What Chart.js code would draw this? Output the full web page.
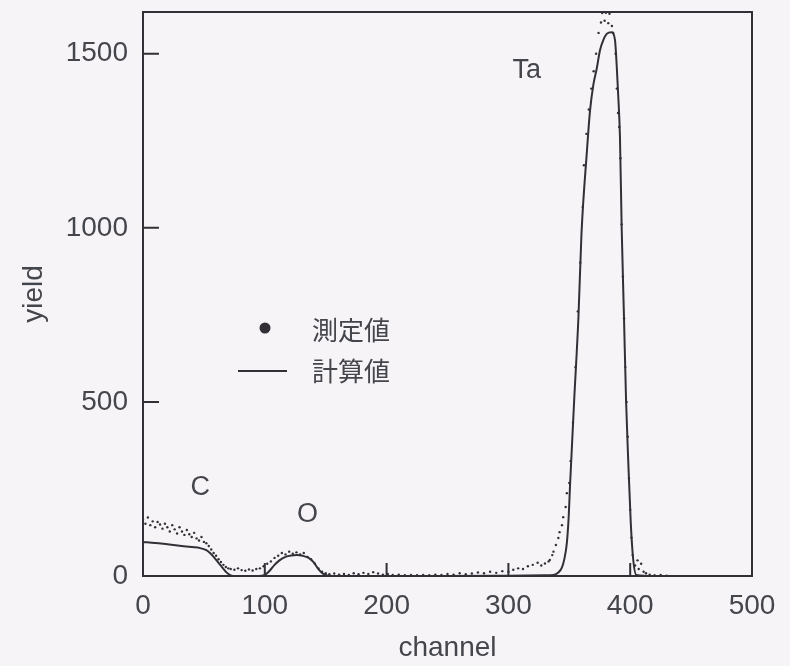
<!DOCTYPE html>
<html>
<head>
<meta charset="utf-8">
<script src="https://cdn.jsdelivr.net/npm/chart.js@4.4.1/dist/chart.umd.min.js"></script>
<style>
  html, body { margin: 0; padding: 0; background: #f6f4f7; }
  #wrap { width: 790px; height: 666px; }
</style>
</head>
<body>
<div id="wrap"><canvas id="spectrum" width="790" height="666"></canvas></div>
<script>
// RBS spectrum: measured yield vs. simulated yield per channel
const measuredChannel = [
  0, 2, 4, 6, 8, 10, 12, 14, 16, 18, 20, 22, 24, 26, 28, 30, 32, 34, 36, 38,
  40, 42, 44, 46, 48, 50, 52, 54, 56, 58, 60, 62, 64, 66, 68, 70,
  72, 75, 78, 81, 84, 87, 90, 93, 96, 99,
  102, 105, 108, 111, 114, 117, 120, 123, 126, 129, 132, 135, 138, 141, 144, 147, 150,
  153, 157, 161, 165, 169, 173, 177, 181, 185, 189, 193, 197, 201, 205, 210, 215, 220,
  225, 230, 235, 240, 245, 250, 255, 260, 265, 270, 275, 280, 285, 290, 295, 300,
  304, 308, 312, 316, 320, 324, 327, 330, 333,
  334, 336, 337, 339, 341, 342, 344, 345, 347, 348, 350, 351, 353, 355, 357, 359,
  361, 362, 364, 366, 368, 370, 372, 374, 376, 377, 379, 380, 382, 383, 385, 386,
  388, 389, 390, 391, 392, 393, 394, 395, 396, 397, 398, 399, 400, 401, 402, 404,
  406, 407, 409, 411, 413, 416, 420, 425, 430
];
const measuredYield = [
  162, 150, 168, 146, 157, 140, 155, 148, 136, 150, 140, 128, 146, 134, 122, 140, 128, 118, 132, 120,
  112, 124, 108, 102, 112, 98, 94, 86, 76, 66, 58, 48, 40, 32, 26, 22,
  20, 18, 22, 17, 15, 19, 16, 20, 22, 28,
  35, 42, 52, 58, 66, 62, 70, 64, 68, 62, 66, 55, 48, 36, 22, 12, 8,
  5, 7, 4, 6, 3, 8, 5, 9, 6, 11, 7, 4, 6, 3, 4, 2, 3,
  2, 3, 2, 4, 3, 6, 4, 8, 5, 7, 10, 8, 12, 9, 14, 12,
  18, 22, 20, 28, 32, 38, 30, 36, 42,
  46, 60, 70, 89, 109, 126, 146, 169, 198, 238, 267, 330, 440, 600, 760, 900,
  1060, 1180, 1270, 1340, 1400, 1450, 1500, 1560, 1590, 1617, 1595, 1618, 1588, 1615, 1580, 1560,
  1500, 1400, 1330, 1290, 1200, 1010, 860, 740, 600, 500, 400, 280, 190, 110, 60, 30,
  45, 20, 35, 12, 8, 4, 2, 3, 1
];
const calcChannel = [
  0, 10, 20, 30, 40, 47, 52, 55, 58, 62, 65, 69, 72, 76, 85, 95,
  100, 104, 108, 112, 117, 122, 126, 131, 136, 140, 144, 148, 152, 160,
  200, 250, 300, 330, 337, 341, 344, 346, 348, 349.5, 350.6, 352, 354, 357.5, 360,
  364.5, 367, 369.7, 372.5, 375.2, 378, 380.7, 384.7, 387.5, 388.9, 390.3, 391.6,
  393, 394.9, 396.6, 398.4, 400.5, 402.5, 405, 420
];
const calcYield = [
  98, 95, 91, 87, 83, 80, 74, 66, 55, 38, 25, 9, 2, 0, 0, 0,
  3, 15, 32, 45, 55, 59, 60, 58, 52, 40, 20, 6, 1, 0,
  0, 0, 1, 2, 3, 10, 25, 50, 95, 170, 260, 361, 505, 743, 983,
  1222, 1336, 1410, 1457, 1510, 1540, 1557, 1562, 1540, 1467, 1371, 1260,
  1000, 743, 505, 330, 150, 46, 3, 0
];
const xTicks = [0, 100, 200, 300, 400, 500];
const yTicks = [0, 500, 1000, 1500];
const peakNames = ['C', 'O', 'Ta'];
const peakChannel = [47, 135, 315];
const peakYield = [253, 176, 1451];

const ink = '#303036';
const textColor = '#45454c';

const toPoints = (xs, ys) => xs.map((x, i) => ({ x, y: ys[i] }));

// frame, inward ticks, peak names and the legend are drawn on the canvas
const decorations = {
  id: 'decorations',
  beforeDraw(chart) {
    const { ctx, width, height } = chart;
    ctx.save();
    ctx.fillStyle = '#f6f4f7';
    ctx.fillRect(0, 0, width, height);
    ctx.restore();
  },
  afterDatasetsDraw(chart) {
    const { ctx, chartArea: a, scales: { x, y } } = chart;
    ctx.save();
    ctx.strokeStyle = ink;
    ctx.lineWidth = 2;
    ctx.strokeRect(a.left, a.top, a.right - a.left, a.bottom - a.top);

    ctx.beginPath();
    xTicks.forEach(v => {
      const px = x.getPixelForValue(v);
      if (px > a.left + 2 && px < a.right - 2) {
        ctx.moveTo(px, a.bottom);
        ctx.lineTo(px, a.bottom - 13);
      }
    });
    yTicks.forEach(v => {
      const py = y.getPixelForValue(v);
      if (py < a.bottom - 2) {
        ctx.moveTo(a.left, py);
        ctx.lineTo(a.left + 16, py);
      }
    });
    ctx.stroke();

    ctx.fillStyle = textColor;
    ctx.font = '27px "Liberation Sans", Arial, sans-serif';
    ctx.textAlign = 'center';
    ctx.textBaseline = 'middle';
    peakNames.forEach((name, i) => {
      ctx.fillText(name, x.getPixelForValue(peakChannel[i]), y.getPixelForValue(peakYield[i]));
    });

    // legend
    const ds = chart.data.datasets;
    const lx = a.left + 122;
    ctx.fillStyle = ink;
    ctx.beginPath();
    ctx.arc(lx, 328, 5.5, 0, Math.PI * 2);
    ctx.fill();
    ctx.beginPath();
    ctx.moveTo(lx - 27, 371);
    ctx.lineTo(lx + 22, 371);
    ctx.stroke();
    ctx.fillStyle = textColor;
    ctx.font = '26px "Noto Sans CJK JP", sans-serif';
    ctx.textAlign = 'left';
    ctx.fillText(ds[0].label, lx + 47, 330);
    ctx.fillText(ds[1].label, lx + 47, 371);
    ctx.restore();
  }
};

const tickFont = { family: '"Liberation Sans", Arial, sans-serif', size: 28 };
const titleFont = { family: '"Liberation Sans", Arial, sans-serif', size: 28 };

new Chart(document.getElementById('spectrum'), {
  type: 'scatter',
  data: {
    datasets: [
      {
        label: '測定値',
        data: toPoints(measuredChannel, measuredYield),
        pointRadius: 1.2,
        pointBackgroundColor: ink,
        pointBorderWidth: 0,
        showLine: false
      },
      {
        label: '計算値',
        data: toPoints(calcChannel, calcYield),
        showLine: true,
        pointRadius: 0,
        borderColor: ink,
        borderWidth: 2,
        cubicInterpolationMode: 'monotone'
      }
    ]
  },
  options: {
    responsive: false,
    animation: false,
    devicePixelRatio: 1,
    layout: { padding: { left: 0, right: 38, top: 12, bottom: 0 } },
    plugins: { legend: { display: false }, tooltip: { enabled: false } },
    scales: {
      x: {
        type: 'linear',
        min: 0,
        max: 500,
        afterBuildTicks: s => { s.ticks = xTicks.map(v => ({ value: v })); },
        afterFit: s => { s.height = 90; s.paddingLeft = 0; s.paddingRight = 0; },
        grid: { display: false, drawTicks: false },
        border: { display: false },
        ticks: { color: textColor, font: tickFont, padding: 13, maxRotation: 0, callback: v => String(v) },
        title: { display: true, text: 'channel', color: textColor, font: titleFont, padding: { top: 0, bottom: 1 } }
      },
      y: {
        type: 'linear',
        min: 0,
        max: 1620,
        afterBuildTicks: s => { s.ticks = yTicks.map(v => ({ value: v })); },
        afterFit: s => { s.width = 143; s.paddingTop = 0; s.paddingBottom = 0; },
        grid: { display: false, drawTicks: false },
        border: { display: false },
        ticks: { color: textColor, font: tickFont, padding: 15, callback: v => String(v) },
        title: { display: true, text: 'yield', color: textColor, font: titleFont, padding: { top: 17, bottom: 0 } }
      }
    }
  },
  plugins: [decorations]
});
</script>
</body>
</html>
